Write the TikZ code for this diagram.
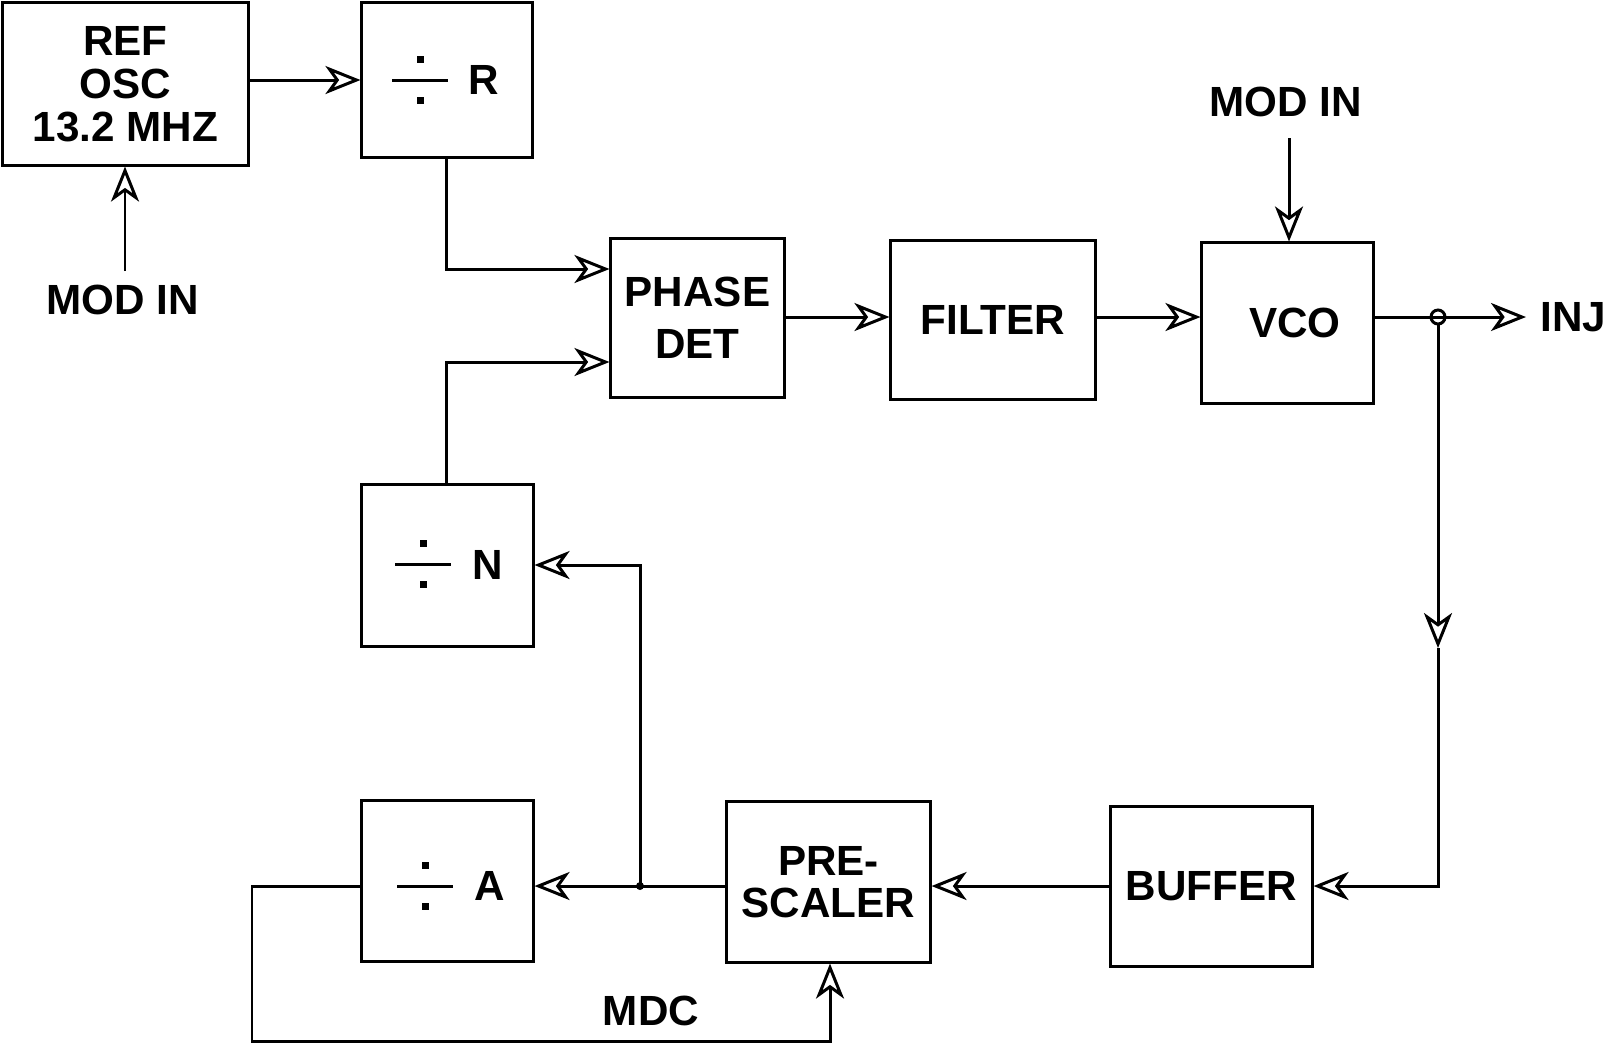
\documentclass[tikz,border=0pt]{standalone}
\usepackage{fontspec}
\setmainfont{Liberation Sans}
\usetikzlibrary{arrows.meta}
\begin{document}
\begin{tikzpicture}[x=0.01cm,y=-0.01cm,
  line width=0.85pt,
  every node/.style={font=\fontsize{12}{12.3}\selectfont\bfseries},
  blk/.style={draw,rectangle,inner sep=0pt,align=center},
  lbl/.style={inner sep=0pt},
  arr/.style={-{Stealth[open,length=3.5mm,width=2.8mm,inset=1mm]}},
  divs/.pic={\draw (-28,0)--(28,0);
             \fill (-3.5,-24) rectangle (3.5,-17);
             \fill (-3.5,17) rectangle (3.5,24);}
]
\useasboundingbox (0,0) rectangle (1606,1044);
% blocks
\node[blk,minimum width=2.45cm,minimum height=1.62cm] (ref) at (125.5,84) {REF\\OSC\\13.2 MHZ};
\node[blk,minimum width=1.70cm,minimum height=1.54cm] (divr) at (447,80) {};
\node[blk,minimum width=1.73cm,minimum height=1.58cm,font=\fontsize{12}{14.8}\selectfont\bfseries] (pd) at (697.5,318) {PHASE\\DET};
\node[blk,minimum width=2.04cm,minimum height=1.58cm] (filt) at (993,320) {FILTER};
\node[blk,minimum width=1.71cm,minimum height=1.60cm] (vco) at (1287.5,323) {\hspace*{0.15cm}VCO};
\node[blk,minimum width=1.71cm,minimum height=1.61cm] (divn) at (447.5,565.5) {};
\node[blk,minimum width=1.71cm,minimum height=1.60cm] (diva) at (447.5,881) {};
\node[blk,minimum width=2.03cm,minimum height=1.60cm,font=\fontsize{12}{11.8}\selectfont\bfseries] (pre) at (828.5,882) {\raisebox{-0.04cm}{PRE-}\\\raisebox{-0.04cm}{SCALER}};
\node[blk,minimum width=2.01cm,minimum height=1.59cm] (buf) at (1211.5,886.5) {\raisebox{-0.05cm}{BUFFER}};
% divider contents
\pic at (420,80) {divs};
\node[lbl] (rl) at (484,80) {R};
\pic at (423,564) {divs};
\node[lbl] (nl) at (488,565) {N};
\pic at (425,886) {divs};
\node[lbl] (al) at (490,886) {A};
% labels
\node[lbl] (modin1) at (123,300) {MOD IN};
\node[lbl] (modin2) at (1286,102) {MOD IN};
\node[lbl,anchor=west] (inj) at (1539,317) {INJ};
\node[lbl] (mdc) at (651,1011) {MDC};
% coordinates
\coordinate (m1s) at (125,271);
\coordinate (m2s) at (1289,138);
\coordinate (ja) at (640,886);
\coordinate (jv) at (1438,317);
\coordinate (injt) at (1526,317);
\coordinate (mid) at (1438,648);
\coordinate (vc) at (1438,886);
\coordinate (rc) at (446,269);
\coordinate (nc) at (446,362);
\coordinate (jn) at (640,565);
\coordinate (al1) at (252,886);
\coordinate (al2) at (252,1041);
\coordinate (al3) at (830,1041);
% connectors
\draw[arr] (ref.east |- divr.west) -- (divr.west);
\draw[arr] (m1s) -- (m1s |- ref.south);
\draw[arr] (divr.south -| rc) -- (rc) -- (rc -| pd.west);
\draw[arr] (divn.north -| nc) -- (nc) -- (nc -| pd.west);
\draw[arr] (pd.east |- 0,317) -- (filt.west |- 0,317);
\draw[arr] (filt.east |- 0,317) -- (vco.west |- 0,317);
\draw[arr] (m2s) -- (m2s |- vco.north);
\draw (vco.east |- jv) -- (jv);
\draw[arr] (jv) -- (injt);
\draw (jv) circle[radius=7];
\draw[arr] ([yshift=-0.07cm]jv) -- (mid);
\draw[arr] (mid) -- (vc) -- (vc -| buf.east);
\draw[arr] (buf.west |- 0,886) -- (pre.east |- 0,886);
\draw (pre.west |- ja) -- (ja);
\draw[arr] (ja) -- (ja -| diva.east);
\draw[arr] (ja) -- (jn) -- (jn -| divn.east);
\fill (ja) circle[radius=4];
\draw[arr] (diva.west |- al1) -- (al1) -- (al2) -- (al3) -- (al3 |- pre.south);
\end{tikzpicture}
\end{document}
